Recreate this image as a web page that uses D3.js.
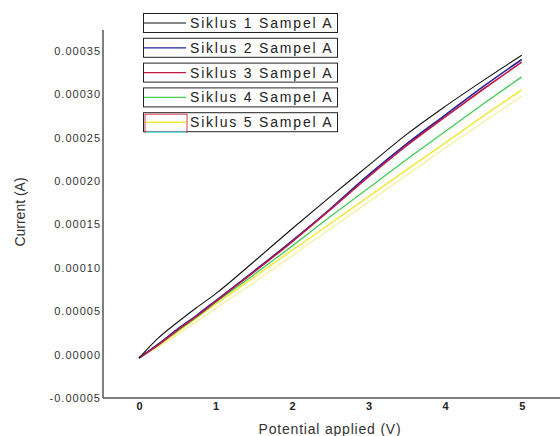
<!DOCTYPE html>
<html>
<head>
<meta charset="utf-8">
<script src="https://cdn.jsdelivr.net/npm/d3@7"></script>
<style>
  body { margin: 0; background: #fff; }
  svg { display: block; font-family: "Liberation Sans", Arial, sans-serif; }
</style>
</head>
<body>
<svg width="560" height="436"></svg>
<script>
// potential (V) for every series
var potential = [0, 0.25, 0.5, 0.75, 1, 1.5, 2, 2.5, 3, 3.5, 4, 4.5, 5];

// current (A) per cycle
var siklus1 = [-0.000004, 0.000019, 0.000037, 0.000054, 0.000070, 0.000107, 0.000145, 0.000182, 0.000218, 0.000254, 0.000286, 0.000316, 0.000345];
var siklus2 = [-0.000004, 0.000012, 0.000029, 0.000045, 0.000062, 0.000096, 0.000131, 0.000168, 0.000207, 0.000243, 0.000276, 0.000309, 0.000340];
var siklus3 = [-0.000004, 0.000011, 0.000028, 0.000044, 0.000061, 0.000095, 0.000130, 0.000167, 0.000205, 0.000241, 0.000274, 0.000306, 0.000337];
var siklus4 = [-0.000004, 0.000011, 0.000027, 0.000043, 0.000060, 0.000092, 0.000125, 0.000159, 0.000192, 0.000225, 0.000257, 0.000289, 0.000320];
var siklus5 = [-0.000003, 0.000010, 0.000026, 0.000042, 0.000058, 0.000089, 0.000120, 0.000151, 0.000182, 0.000213, 0.000244, 0.000275, 0.000305];
var siklus5b = [-0.000003, 0.000009, 0.000023, 0.000038, 0.000053, 0.000083, 0.000114, 0.000145, 0.000176, 0.000207, 0.000238, 0.000268, 0.000298];

var names = ["Siklus 1 Sampel A", "Siklus 2 Sampel A", "Siklus 3 Sampel A", "Siklus 4 Sampel A", "Siklus 5 Sampel A"];
var colors = ["#111111", "#22229a", "#c01848", "#44cc55", "#eeea3a"];

var yTicks = [-0.00005, 0, 0.00005, 0.0001, 0.00015, 0.0002, 0.00025, 0.0003, 0.00035];
var yTickLabels = ["-0.00005", "0.00000", "0.00005", "0.00010", "0.00015", "0.00020", "0.00025", "0.00030", "0.00035"];
var xTicks = [0, 1, 2, 3, 4, 5];

var svg = d3.select("svg");

var xScale = d3.scaleLinear().domain([-0.47, 5.5]).range([103, 560]);
var yScale = d3.scaleLinear().domain([-0.00005, 0.000374]).range([398, 30]);

// lines
var line = d3.line()
  .x(function(d){ return xScale(d[0]); })
  .y(function(d){ return yScale(d[1]); })
  .curve(d3.curveMonotoneX);

var series = [
  {vals: siklus5b, color: "#f4f0a0", w: 1.3},
  {vals: siklus5, color: colors[4], w: 1.5},
  {vals: siklus4, color: colors[3], w: 1.3},
  {vals: siklus2, color: colors[1], w: 1.6},
  {vals: siklus3, color: colors[2], w: 1.6},
  {vals: siklus1, color: colors[0], w: 1.1}
];

series.forEach(function(s){
  svg.append("path")
    .attr("d", line(potential.map(function(p, i){ return [p, s.vals[i]]; })))
    .attr("fill", "none")
    .attr("stroke", s.color)
    .attr("stroke-width", s.w)
    .attr("stroke-linejoin", "round");
});

// axes
var yAxis = d3.axisLeft(yScale)
  .tickValues(yTicks)
  .tickFormat(function(d, i){ return yTickLabels[i]; })
  .tickSize(0)
  .tickPadding(2);

var gy = svg.append("g")
  .attr("transform", "translate(103,0)")
  .call(yAxis);
gy.select(".domain").attr("stroke", "#555").attr("stroke-width", 1.5).attr("d", "M0,30V398");
gy.selectAll("text")
  .attr("font-size", 11)
  .attr("fill", "#333")
  .style("letter-spacing", "1px")
  .attr("font-family", "Liberation Sans, Arial, sans-serif");

var xAxis = d3.axisBottom(xScale)
  .tickValues(xTicks)
  .tickFormat(d3.format("d"))
  .tickSize(0)
  .tickPadding(4);

var gx = svg.append("g")
  .attr("transform", "translate(0,398)")
  .call(xAxis);
gx.select(".domain").attr("stroke", "#555").attr("stroke-width", 1.5).attr("d", "M103,0H560");
gx.selectAll("text")
  .attr("font-size", 11)
  .attr("font-weight", "bold")
  .attr("fill", "#222")
  .attr("font-family", "Liberation Sans, Arial, sans-serif");

// titles
svg.append("text")
  .attr("x", 330)
  .attr("y", 434)
  .attr("text-anchor", "middle")
  .attr("font-size", 14)
  .attr("fill", "#333")
  .style("letter-spacing", "0.8px")
  .text("Potential applied (V)");

svg.append("text")
  .attr("transform", "translate(25,212) rotate(-90)")
  .attr("text-anchor", "middle")
  .attr("font-size", 14)
  .attr("fill", "#333")
  .text("Current (A)");

// legend
var legend = svg.append("g");
names.forEach(function(n, i){
  var top = 13 + i * 24.8;
  var g = legend.append("g").attr("transform", "translate(143," + top + ")");
  g.append("rect")
    .attr("x", 0.5).attr("y", 0.5)
    .attr("width", 194).attr("height", 19)
    .attr("fill", "#fff")
    .attr("stroke", "#222")
    .attr("stroke-width", 1);
  if (i < 4) {
    g.append("line")
      .attr("x1", 1).attr("x2", 43)
      .attr("y1", 10).attr("y2", 10)
      .attr("stroke", colors[i])
      .attr("stroke-width", 1.2);
  } else {
    g.append("rect")
      .attr("x", 2).attr("y", 2).attr("width", 42).attr("height", 18)
      .attr("fill", "none").attr("stroke", "#d04050").attr("stroke-width", 1);
    g.append("line")
      .attr("x1", 3).attr("x2", 43).attr("y1", 10).attr("y2", 10)
      .attr("stroke", colors[4]).attr("stroke-width", 1.4);
    g.append("line")
      .attr("x1", 3).attr("x2", 43).attr("y1", 20).attr("y2", 20)
      .attr("stroke", "#70e0e8").attr("stroke-width", 1.4);
  }
  g.append("text")
    .attr("x", 47)
    .attr("y", 15)
    .attr("font-size", 14)
    .attr("fill", "#222")
    .style("letter-spacing", "1.8px")
    .text(n);
});
</script>
</body>
</html>
